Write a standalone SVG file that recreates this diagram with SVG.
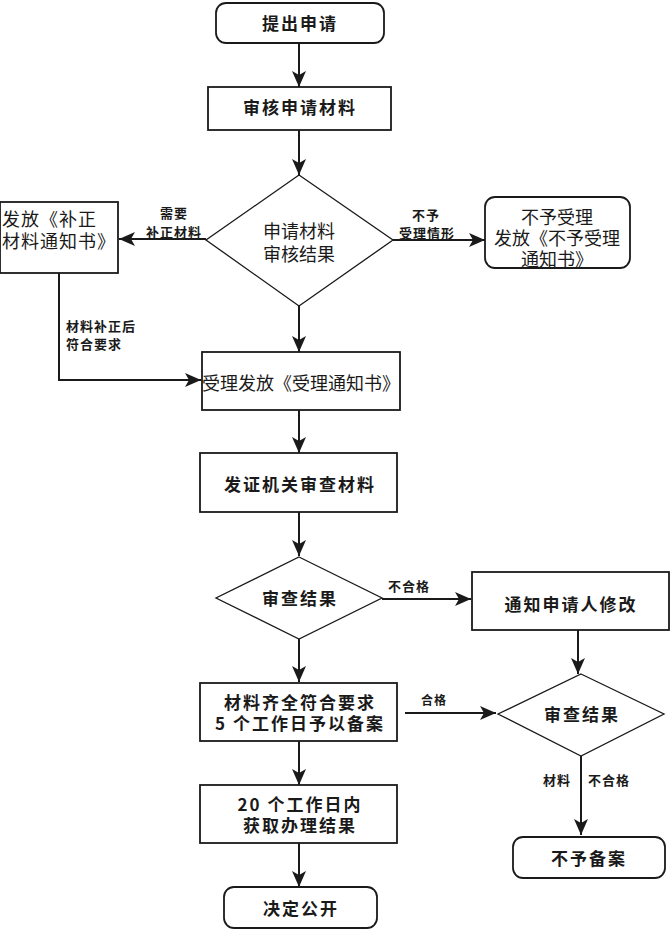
<svg xmlns="http://www.w3.org/2000/svg" width="671" height="931" viewBox="0 0 671 931">
<defs>
<marker id="ah" markerUnits="userSpaceOnUse" markerWidth="16" markerHeight="16" viewBox="0 0 16 16" refX="16" refY="8" orient="auto">
<path d="M0,1 L16,8 L0,15 L4,8 Z" fill="#1a1a1a"/>
</marker>
</defs>
<style>
.box{fill:#fff;stroke:#1a1a1a;stroke-width:1.8}
.dia{fill:#fff;stroke:#1a1a1a;stroke-width:1.3}
.c{fill:none;stroke:#1a1a1a;stroke-width:2;marker-end:url(#ah)}
text{font-family:"Noto Sans CJK SC","Noto Sans",sans-serif;fill:#1a1a1a}
.b{font-size:17px;font-weight:bold;letter-spacing:2px;text-anchor:middle;dominant-baseline:central}
.r{font-size:18px;text-anchor:middle;dominant-baseline:central}
.rl{font-size:18px;letter-spacing:1px;dominant-baseline:central}
.l{font-size:13px;font-weight:bold;letter-spacing:1px;dominant-baseline:central}
</style>
<rect width="671" height="931" fill="#fff"/>
<g id="connectors">
<line class="c" x1="299" y1="43" x2="299" y2="87"/>
<line class="c" x1="299" y1="130" x2="299" y2="175"/>
<line class="c" x1="206" y1="239" x2="119" y2="239"/>
<line class="c" x1="393" y1="240" x2="485" y2="240"/>
<line class="c" x1="299" y1="306" x2="299" y2="352"/>
<polyline class="c" points="59,273 59,380 201,380"/>
<line class="c" x1="299" y1="410" x2="299" y2="453"/>
<line class="c" x1="299" y1="512" x2="299" y2="556"/>
<line class="c" x1="382" y1="599" x2="471" y2="599"/>
<line class="c" x1="299" y1="639" x2="299" y2="682"/>
<line class="c" x1="578" y1="630" x2="578" y2="674"/>
<line class="c" x1="405" y1="713" x2="496" y2="713"/>
<line class="c" x1="581" y1="756" x2="581" y2="835"/>
<line class="c" x1="299" y1="741" x2="299" y2="785"/>
<line class="c" x1="299" y1="843" x2="299" y2="887"/>
<text class="l" x="160" y="212">需要<tspan x="146" y="231">补正材料</tspan></text>
<text class="l" x="412" y="214">不予<tspan x="399" y="232">受理情形</tspan></text>
<text class="l" x="66" y="325">材料补正后<tspan x="66" y="343">符合要求</tspan></text>
<text class="l" x="388" y="585">不合格</text>
<text class="l" x="421" y="699" style="font-size:12px">合格</text>
<text class="l" x="543" y="779">材料</text>
<text class="l" x="588" y="779">不合格</text>
</g>
<g id="n1"><rect class="box" x="216" y="3" width="168" height="40" rx="10"/><text class="b" x="300" y="22">提出申请</text></g>
<g id="n2"><rect class="box" x="208" y="87" width="183" height="43"/><text class="b" x="300" y="106">审核申请材料</text></g>
<g id="n3"><polygon class="dia" points="299,175 393,240 299,306 206,240"/><text class="r" x="299" y="230">申请材料<tspan x="299" y="253">审核结果</tspan></text></g>
<g id="n4"><rect class="box" x="0" y="202" width="118" height="71"/><text class="rl" x="2" y="218">发放《补正<tspan x="2" y="240">材料通知书》</tspan></text></g>
<g id="n5"><rect class="box" x="485" y="197" width="145" height="71" rx="10"/><text class="r" x="557" y="216">不予受理<tspan x="557" y="237">发放《不予受理</tspan><tspan x="557" y="258">通知书》</tspan></text></g>
<g id="n6"><rect class="box" x="202" y="352" width="198" height="58"/><text class="r" x="301" y="382">受理发放《受理通知书》</text></g>
<g id="n7"><rect class="box" x="200" y="453" width="197" height="59"/><text class="b" x="300" y="483">发证机关审查材料</text></g>
<g id="n8"><polygon class="dia" points="299,557 382,598 299,639 216,598"/><text class="b" x="300" y="597">审查结果</text></g>
<g id="n9"><rect class="box" x="472" y="572" width="197" height="58"/><text class="b" x="571" y="603">通知申请人修改</text></g>
<g id="n10"><rect class="box" x="200" y="683" width="197" height="58"/><text class="b" x="300" y="701">材料齐全符合要求<tspan x="300" y="722">5 个工作日予以备案</tspan></text></g>
<g id="n11"><polygon class="dia" points="581,674 664,714 581,756 498,714"/><text class="b" x="582" y="713">审查结果</text></g>
<g id="n12"><rect class="box" x="200" y="785" width="197" height="58"/><text class="b" x="300" y="803">20 个工作日内<tspan x="300" y="824">获取办理结果</tspan></text></g>
<g id="n13"><rect class="box" x="513" y="837" width="152" height="41" rx="10"/><text class="b" x="589" y="857">不予备案</text></g>
<g id="n14"><rect class="box" x="224" y="887" width="153" height="41" rx="10"/><text class="b" x="301" y="907">决定公开</text></g>
</svg>
